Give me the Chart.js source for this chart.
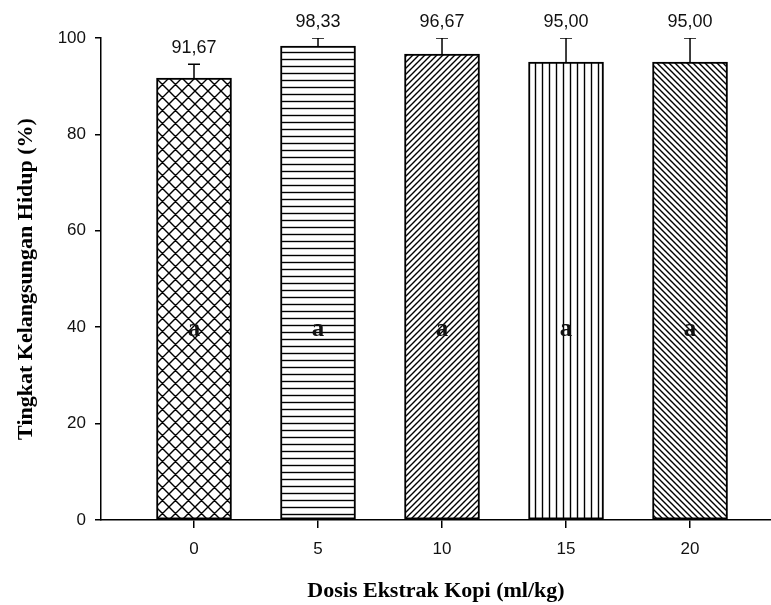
<!DOCTYPE html>
<html>
<head>
<meta charset="utf-8">
<script src="https://cdn.jsdelivr.net/npm/chart.js@4"></script>
<style>
  body { margin: 0; background: #fff; }
  #wrap { width: 771px; height: 605px; }
</style>
</head>
<body>
<div id="wrap"><canvas id="survChart" width="771" height="605"></canvas></div>
<script>
// data
const doses = ['0', '5', '10', '15', '20'];
const survival = [91.67, 98.33, 96.67, 95.00, 95.00];
const errors = [2.89, 1.67, 3.33, 5.00, 5.00];
const notations = ['a', 'a', 'a', 'a', 'a'];
const yTicks = [0, 20, 40, 60, 80, 100];

// hatch patterns for the bars
function makePattern(kind) {
  const s = kind === 'cross' ? 13 : (kind === 'h' || kind === 'v') ? 7 : 6;
  const c = document.createElement('canvas');
  c.width = s; c.height = s;
  const g = c.getContext('2d');
  g.fillStyle = '#fff';
  g.fillRect(0, 0, s, s);
  g.strokeStyle = '#000';
  g.lineWidth = 1.4;
  g.beginPath();
  if (kind === 'h') {
    g.moveTo(0, s / 2); g.lineTo(s, s / 2);
  } else if (kind === 'v') {
    g.moveTo(s / 2, 0); g.lineTo(s / 2, s);
  } else if (kind === 'up' || kind === 'cross') {
    g.moveTo(-1, s + 1); g.lineTo(s + 1, -1);
    g.moveTo(-1, 1); g.lineTo(1, -1);
    g.moveTo(s - 1, s + 1); g.lineTo(s + 1, s - 1);
  }
  if (kind === 'down' || kind === 'cross') {
    g.moveTo(-1, -1); g.lineTo(s + 1, s + 1);
    g.moveTo(s - 1, -1); g.lineTo(s + 1, 1);
    g.moveTo(-1, s - 1); g.lineTo(1, s + 1);
  }
  g.stroke();
  return g.createPattern(c, 'repeat');
}

const ctx = document.getElementById('survChart').getContext('2d');
const fills = ['cross', 'h', 'up', 'v', 'down'].map(makePattern);

// error bars, value labels and letters
const extras = {
  id: 'extras',
  afterDatasetsDraw(chart) {
    const c = chart.ctx;
    const area = chart.chartArea;
    const ys = chart.scales.y;
    const bars = chart.getDatasetMeta(0).data;
    c.save();
    bars.forEach((bar, i) => {
      const top = ys.getPixelForValue(survival[i]);
      const errTop = ys.getPixelForValue(survival[i] + errors[i]);
      c.save();
      c.beginPath();
      c.rect(area.left, area.top, area.right - area.left, area.bottom - area.top);
      c.clip();
      c.strokeStyle = '#000';
      c.lineWidth = 1.5;
      c.beginPath();
      c.moveTo(bar.x, top);
      c.lineTo(bar.x, errTop);
      c.moveTo(bar.x - 6, errTop);
      c.lineTo(bar.x + 6, errTop);
      c.stroke();
      c.restore();

      c.fillStyle = '#111';
      c.font = '18px "Liberation Sans", Arial, sans-serif';
      c.textAlign = 'center';
      c.textBaseline = 'middle';
      const labY = Math.max(errTop, area.top) - 16;
      c.fillText(survival[i].toFixed(2).replace('.', ','), bar.x, labY);

      c.font = 'bold 25px "Liberation Serif", "Times New Roman", serif';
      c.fillText(notations[i], bar.x, ys.getPixelForValue(39.5));
    });
    c.restore();
  }
};

const chart = new Chart(ctx, {
  type: 'bar',
  data: {
    datasets: [{
      data: survival.map((v, i) => ({ x: i, y: v })),
      backgroundColor: fills,
      borderColor: '#000',
      borderWidth: 2,
      borderSkipped: false,
      barThickness: 75
    }]
  },
  options: {
    responsive: false,
    animation: false,
    layout: { padding: { top: 38, right: 0, left: 0, bottom: 0 } },
    plugins: {
      legend: { display: false },
      tooltip: { enabled: false }
    },
    scales: {
      x: {
        type: 'linear',
        offset: false,
        min: -0.75,
        max: 4.653,
        afterFit: (s) => { s.height = 85; },
        afterBuildTicks: (s) => { s.ticks = doses.map((d, i) => ({ value: i })); },
        ticks: {
          callback: (v) => doses[v],
          color: '#111',
          font: { family: '"Liberation Sans", Arial, sans-serif', size: 17 },
          padding: 11,
          maxRotation: 0
        },
        grid: { display: true, offset: false, drawOnChartArea: false, drawTicks: true, tickLength: 8, color: '#000', lineWidth: 1.5 },
        border: { display: true, color: '#000', width: 1.5 },
        title: {
          display: true,
          text: 'Dosis Ekstrak Kopi (ml/kg)',
          color: '#000',
          font: { family: '"Liberation Serif", "Times New Roman", serif', size: 22, weight: 'bold' },
          padding: { top: 0, bottom: 0 }
        }
      },
      y: {
        min: 0,
        max: 100,
        afterFit: (s) => { s.width = 101; },
        afterBuildTicks: (s) => { s.ticks = yTicks.map(v => ({ value: v })); },
        ticks: {
          color: '#111',
          font: { family: '"Liberation Sans", Arial, sans-serif', size: 17 },
          padding: 9
        },
        grid: { display: true, drawOnChartArea: false, drawTicks: true, tickLength: 6, color: '#000', lineWidth: 1.5 },
        border: { display: true, color: '#000', width: 1.5 },
        title: {
          display: true,
          text: 'Tingkat Kelangsungan Hidup (%)',
          color: '#000',
          font: { family: '"Liberation Serif", "Times New Roman", serif', size: 22, weight: 'bold' },
          padding: { top: 13, bottom: 0 }
        }
      }
    }
  },
  plugins: [extras]
});
</script>
</body>
</html>
